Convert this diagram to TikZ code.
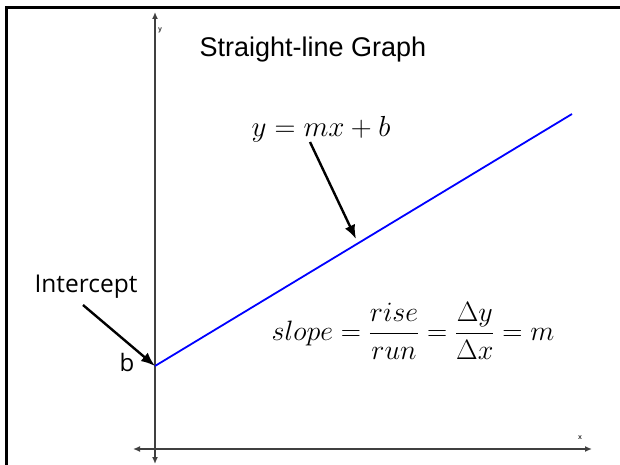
\RequirePackage{fix-cm}
\documentclass[tikz,border=0pt]{standalone}
\usepackage{fontspec}
\usepackage{amsmath}
\setmainfont{Liberation Sans}
\newfontfamily\opensans{Open Sans}
\usetikzlibrary{arrows.meta}
\begin{document}
\begin{tikzpicture}[x=1pt,y=-1pt,
  axisline/.style={draw=black!75,line width=1.6pt,-{Latex[length=7pt,width=6pt]}},
  pointer/.style={draw=black,line width=2.4pt,-{Latex[length=14pt,width=11pt]}},
  tinylabel/.style={font=\fontsize{7}{8}\selectfont\bfseries,text=black!80,inner sep=0pt}]
\useasboundingbox (0,0) rectangle (620,465);
\fill[white] (0,0) rectangle (620,465);
% frame (top and left edges)
\draw[line width=3pt] (6.5,465) -- (6.5,7.5) -- (620,7.5);
% axes
\coordinate (O) at (155,449);
\coordinate (ytop) at (155,12);
\coordinate (ybot) at (155,464);
\coordinate (xl) at (133,449);
\coordinate (xr) at (592,449);
\draw[axisline] (O) -- (ytop);
\draw[axisline] (O) -- (ybot);
\draw[axisline] (O) -- (xl);
\draw[axisline] (O) -- (xr);
\node[tinylabel] (ylab) at (160,30) {y};
\node[tinylabel] (xlab) at (580,438) {x};
% line
\coordinate (b) at (155,366);
\coordinate (e) at (572,114);
\draw[blue,line width=1.8pt] (b) -- (e);
\coordinate (mid) at (356,239);
% title
\node (title) at (313,50) {\fontsize{27}{30}\selectfont Straight-line Graph};
% equation
\node (eq) at (321,129) {\fontsize{29}{34}\selectfont $y = mx + b$};
\coordinate (eqfoot) at (310,142);
\draw[pointer] (eqfoot) -- (mid);
% intercept
\node (icpt) at (86,287) {\opensans\fontsize{24.5}{28}\selectfont Intercept};
\node (blab) at (127,362) {\opensans\fontsize{24}{28}\selectfont b};
\coordinate (ifoot) at (83,305);
\draw[pointer] (ifoot) -- (b);
% slope
\node (slope) at (413,331) {\fontsize{28}{32}\selectfont $slope = \dfrac{rise}{run} = \dfrac{\Delta y}{\Delta x} = m$};
\end{tikzpicture}
\end{document}
